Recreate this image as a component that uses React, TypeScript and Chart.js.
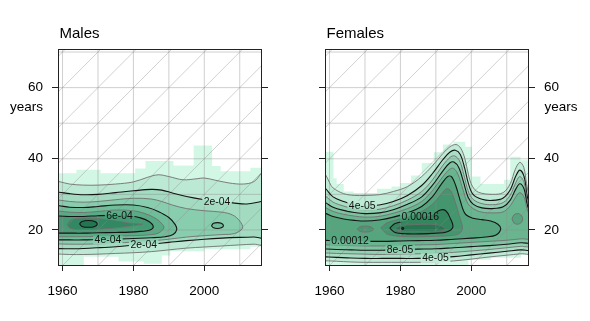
import React, { useEffect, useRef } from 'react';
import { Chart, registerables } from 'chart.js';

Chart.register(...registerables);

const FONT = '"Liberation Sans", Arial, Helvetica, sans-serif';

type P = [number, number];

// ---------- axes ----------
const yearMin = 1959;
const yearMax = 2016;
const ageMin = 10.15;
const ageMax = 70.85;
const xTicks = [1960, 1980, 2000];
const yTicks = [20, 40, 60];
const gridYears = [1960, 1970, 1980, 1990, 2000, 2010];
const gridAges = [20, 30, 40, 50, 60, 70];
const cohorts = [1880, 1890, 1900, 1910, 1920, 1930, 1940, 1950, 1960, 1970, 1980, 1990, 2000, 2010];

// ---------- Males : contour lines (year, age) ----------
const m1Upper: P[] = [[1957.5, 33.8], [1959, 33.6], [1962, 32.9], [1966, 32.6], [1970, 32.6], [1975, 32.9], [1980, 33.5], [1984, 34.8], [1987, 35.5], [1990, 35.0], [1994, 34.1], [1998, 34.4], [2000, 34.6], [2003, 34.0], [2007, 33.2], [2011, 32.9], [2014, 33.6], [2016, 35.8], [2017.5, 37.5]];
const m1Lower: P[] = [[1957.5, 13.3], [1962, 13.1], [1966, 13.1], [1970, 13.2], [1975, 13.4], [1980, 13.6], [1985, 13.9], [1990, 14.4], [1995, 14.9], [2000, 15.2], [2005, 15.5], [2010, 15.8], [2014, 16.0], [2017.5, 16.0]];
const m2Upper: P[] = [[1957.5, 30.7], [1959, 30.6], [1962, 30.2], [1966, 29.9], [1970, 30.0], [1975, 30.5], [1980, 31.0], [1985, 31.4], [1988, 31.2], [1991, 30.4], [1995, 29.4], [2000, 28.5], [2004, 28.0], [2008, 27.6], [2012, 27.3], [2016, 28.0], [2017.5, 28.3]];
const m2Lower: P[] = [[1957.5, 14.8], [1962, 14.7], [1966, 14.8], [1970, 15.0], [1975, 15.3], [1980, 15.7], [1985, 16.0], [1990, 16.5], [1995, 17.0], [2000, 17.4], [2005, 17.7], [2010, 17.9], [2014, 18.0], [2017.5, 18.0]];
const m3Upper: P[] = [[1957.5, 28.5], [1959, 28.4], [1962, 28.0], [1966, 27.8], [1970, 28.0], [1975, 28.5], [1980, 28.9], [1985, 28.7], [1988, 28.0], [1991, 27.0], [1995, 26.0], [2000, 25.4], [2005, 25.0], [2008, 24.2], [2010, 22.5], [2010.8, 20.5]];
const m3Lower: P[] = [[1957.5, 16.1], [1962, 16.0], [1966, 16.0], [1970, 16.1], [1975, 16.3], [1980, 16.6], [1985, 16.9], [1990, 17.4], [1995, 18.0], [2000, 18.4], [2005, 18.7], [2008.5, 19.0], [2010.8, 20.5]];
const m4Upper: P[] = [[1957.5, 26.9], [1959, 26.8], [1962, 26.4], [1966, 26.3], [1970, 26.6], [1975, 27.0], [1980, 27.0], [1984, 26.3], [1987, 25.2], [1990, 23.5], [1991.8, 21.5], [1992.2, 20.0]];
const m4Lower: P[] = [[1957.5, 17.2], [1962, 17.2], [1966, 17.2], [1970, 17.3], [1975, 17.4], [1980, 17.6], [1985, 17.8], [1989, 18.1], [1991.2, 18.7], [1992.2, 20.0]];
const m4bUpper: P[] = [[2002.0, 21.2], [2002.6, 21.85], [2003.7, 22.05], [2004.8, 21.85], [2005.4, 21.2]];
const m4bLower: P[] = [[2002.0, 21.2], [2002.6, 20.6], [2003.7, 20.4], [2004.8, 20.6], [2005.4, 21.2]];
const m5Upper: P[] = [[1957.5, 25.4], [1959, 25.3], [1962, 25.0], [1966, 24.9], [1970, 25.2], [1975, 25.6], [1980, 25.4], [1983, 24.7], [1986, 23.4], [1988, 21.8], [1988.6, 20.6]];
const m5Lower: P[] = [[1957.5, 18.1], [1962, 18.1], [1966, 18.1], [1970, 18.2], [1975, 18.3], [1980, 18.4], [1984, 18.6], [1987, 19.1], [1988.6, 20.6]];
const m6Upper: P[] = [[1957.5, 23.9], [1959, 23.9], [1962, 23.8], [1966, 23.8], [1970, 24.0], [1975, 24.1], [1979, 23.9], [1982, 23.4], [1984.5, 22.3], [1985.6, 20.9]];
const m6Lower: P[] = [[1957.5, 19.1], [1962, 19.1], [1966, 19.1], [1970, 19.2], [1975, 19.3], [1979, 19.4], [1982, 19.6], [1984.5, 19.9], [1985.6, 20.9]];
const m7Upper: P[] = [[1961.3, 21.4], [1962.3, 22.7], [1965, 23.3], [1970, 23.2], [1975, 22.6], [1979, 21.9], [1982.5, 21.6]];
const m7Lower: P[] = [[1961.3, 21.4], [1962.3, 20.4], [1965, 20.1], [1970, 20.2], [1975, 20.6], [1979, 21.1], [1982.5, 21.6]];
const m8Upper: P[] = [[1964.8, 21.7], [1965.5, 22.4], [1967.3, 22.65], [1969.1, 22.4], [1969.8, 21.7]];
const m8Lower: P[] = [[1964.8, 21.7], [1965.5, 21.0], [1967.3, 20.75], [1969.1, 21.0], [1969.8, 21.7]];
// blocky outer region (step start year, age)
const malePaleTop: P[] = [[1957, 35.9], [1963.9, 36.9], [1970.7, 35.9], [1980.5, 37.3], [1983.4, 39.4], [1991.3, 38.1], [1997, 43.7], [2002.2, 38.0], [2004.6, 36.5], [2013, 37.5]];
const malePaleBottom: P[] = [[1957, 9.0], [1966, 12.5], [1975.8, 11.1], [1982.9, 10.5], [1988, 12.8], [1990.4, 14.0], [2000, 14.6], [2013, 15.3]];
const maleFills = ['#d3f7e5', '#bce9d3', '#a2dbc0', '#88cdad', '#6fbd99', '#58ab85', '#439a73', '#328862', '#227652'];
const maleLabels = [
  { text: '6e-04', year: 1976.1, age: 24.0 },
  { text: '4e-04', year: 1972.8, age: 17.4 },
  { text: '2e-04', year: 1982.9, age: 15.8 },
  { text: '2e-04', year: 2003.6, age: 28.0 },
];

// ---------- Females : contour lines (year, age) ----------
const f1Upper: P[] = [[1957.5, 37], [1959, 35.3], [1960, 33.3], [1961, 31.8], [1964, 30.2], [1967, 29.7], [1970, 29.7], [1974, 29.9], [1978, 30.8], [1982, 32.2], [1986, 35.0], [1989, 38.0], [1992, 41.5], [1994, 43.4], [1995.7, 44.0], [1997, 43.0], [1998.2, 40.0], [1999.2, 35.5], [2000.3, 32.3], [2002, 30.6], [2006, 30.0], [2009, 30.5], [2011, 33.0], [2012.4, 37.0], [2013.7, 39.0], [2014.8, 37.6], [2015.6, 33.0], [2016.3, 29.5], [2017.5, 26]];
const f1Lower: P[] = [[1957.5, 11.4], [1962, 11.2], [1966, 11.0], [1970, 10.9], [1975, 10.9], [1980, 10.9], [1985, 10.9], [1990, 11.0], [1995, 11.3], [2000, 11.8], [2005, 12.4], [2010, 12.9], [2014, 13.3], [2017.5, 13.6]];
const f2Upper: P[] = [[1957.5, 33], [1959, 31.5], [1961, 29.3], [1964, 28.0], [1967, 27.1], [1970, 26.8], [1974, 27.0], [1978, 28.0], [1982, 29.7], [1986, 32.5], [1989, 35.8], [1992, 39.8], [1994, 41.9], [1995.5, 42.4], [1996.9, 41.2], [1998.1, 37.5], [1999.2, 33.0], [2000.5, 30.0], [2003, 28.6], [2006, 28.3], [2009, 29.0], [2011, 31.3], [2012.5, 35.0], [2013.7, 36.8], [2014.9, 35.0], [2015.7, 30.0], [2016.3, 27.5], [2017.5, 25]];
const f2Lower: P[] = [[1957.5, 12.5], [1962, 12.3], [1966, 12.1], [1970, 12.0], [1975, 12.0], [1980, 12.0], [1985, 12.0], [1990, 12.2], [1995, 12.5], [2000, 13.0], [2005, 13.5], [2010, 14.0], [2014, 14.4], [2017.5, 14.6]];
const f3Upper: P[] = [[1957.5, 30.5], [1959, 29.4], [1961, 27.8], [1964, 26.7], [1967, 25.9], [1970, 25.6], [1974, 25.8], [1978, 26.8], [1982, 28.4], [1986, 30.8], [1989, 34.0], [1992, 38.2], [1994, 40.4], [1995.3, 40.8], [1996.7, 39.4], [1997.9, 35.5], [1999.1, 31.0], [2000.5, 28.6], [2003, 27.4], [2006, 27.1], [2009, 27.7], [2011, 29.8], [2012.5, 33.2], [2013.7, 35.0], [2014.9, 33.3], [2015.7, 28.5], [2016.3, 26.5], [2017.5, 24]];
const f3Lower: P[] = [[1957.5, 13.6], [1962, 13.4], [1966, 13.3], [1970, 13.2], [1975, 13.1], [1980, 13.2], [1985, 13.3], [1990, 13.4], [1995, 13.7], [2000, 14.1], [2005, 14.5], [2010, 15.0], [2014, 15.4], [2017.5, 15.6]];
const f4Upper: P[] = [[1957.5, 28.5], [1959, 27.6], [1961, 26.4], [1964, 25.5], [1967, 24.9], [1970, 24.6], [1974, 24.8], [1978, 25.7], [1982, 27.2], [1986, 29.3], [1989, 32.5], [1992, 36.6], [1993.9, 38.8], [1995.1, 39.1], [1996.5, 37.5], [1997.8, 33.5], [1999.1, 29.2], [2000.6, 27.2], [2003, 26.2], [2006, 26.0], [2009, 26.5], [2011, 28.4], [2012.5, 31.4], [2013.7, 33.0], [2014.9, 31.5], [2015.7, 27.5], [2016.3, 25.5], [2017.5, 23]];
const f4Lower: P[] = [[1957.5, 14.7], [1962, 14.5], [1966, 14.4], [1970, 14.3], [1975, 14.3], [1980, 14.5], [1985, 14.6], [1990, 14.7], [1995, 15.0], [2000, 15.3], [2005, 15.6], [2010, 16.0], [2014, 16.4], [2017.5, 16.6]];
const f5Upper: P[] = [[1957.5, 26.8], [1959, 26.2], [1961, 25.2], [1964, 24.4], [1967, 23.9], [1970, 23.6], [1974, 23.8], [1978, 24.7], [1982, 26.0], [1986, 28.0], [1989, 31.0], [1992, 35.0], [1993.8, 37.0], [1995, 37.3], [1996.3, 35.5], [1997.6, 31.5], [1999, 27.5], [2000.7, 25.9], [2003, 25.0], [2006, 24.8], [2009, 25.1], [2011, 26.8], [2012.5, 29.2], [2013.7, 30.5], [2014.9, 29.2], [2015.7, 26.0], [2016.3, 24.5], [2017.5, 22.5]];
const f5Lower: P[] = [[1957.5, 15.9], [1962, 15.7], [1966, 15.6], [1970, 15.5], [1975, 15.5], [1980, 15.6], [1985, 15.8], [1990, 15.9], [1995, 16.2], [2000, 16.5], [2005, 16.8], [2010, 17.1], [2014, 17.5], [2017.5, 17.7]];
const f6Upper: P[] = [[1957.5, 25.0], [1959, 24.6], [1961, 23.8], [1964, 23.1], [1967, 22.7], [1970, 22.5], [1974, 22.8], [1978, 23.6], [1982, 24.8], [1986, 26.6], [1989, 29.3], [1991.5, 32.8], [1993.3, 35.0], [1994.4, 35.0], [1995.6, 32.5], [1996.8, 28.5], [1998.3, 24.5], [2000.5, 23.3], [2003, 22.9], [2005.5, 22.5], [2007.5, 21.6], [2008.3, 20.3]];
const f6Lower: P[] = [[1957.5, 17.1], [1962, 17.0], [1966, 16.9], [1970, 16.8], [1975, 16.8], [1980, 16.9], [1985, 17.0], [1990, 17.1], [1995, 17.4], [2000, 17.7], [2004, 18.0], [2007, 18.6], [2008.3, 20.3]];
const f6bUpper: P[] = [[2011.5, 23.1], [2012.0, 24.2], [2013.0, 24.6], [2014.0, 24.2], [2014.5, 23.1]];
const f6bLower: P[] = [[2011.5, 23.1], [2012.0, 22.0], [2013.0, 21.6], [2014.0, 22.0], [2014.5, 23.1]];
const f7Upper: P[] = [[1974.5, 20.6], [1976, 21.9], [1978, 22.6], [1982, 23.7], [1986, 25.2], [1989, 27.2], [1991.5, 30.0], [1993, 31.6], [1994.2, 31.0], [1995.4, 28.0], [1996.6, 24.0], [1997.5, 20.5]];
const f7Lower: P[] = [[1974.5, 20.6], [1976, 19.0], [1978, 18.4], [1982, 18.1], [1986, 18.1], [1990, 18.2], [1994, 18.4], [1996.5, 18.9], [1997.5, 20.5]];
const f7bUpper: P[] = [[1967.8, 20.2], [1968.6, 20.9], [1970.1, 21.1], [1971.6, 20.9], [1972.4, 20.2]];
const f7bLower: P[] = [[1967.8, 20.2], [1968.6, 19.6], [1970.1, 19.4], [1971.6, 19.6], [1972.4, 20.2]];
const f8Upper: P[] = [[1977, 20.5], [1978.5, 21.8], [1982, 22.7], [1985.5, 23.5], [1989, 24.3], [1991.3, 25.6], [1992.8, 25.4], [1994, 23.4], [1994.8, 20.8]];
const f8Lower: P[] = [[1977, 20.5], [1978.5, 19.3], [1982, 18.9], [1986, 18.9], [1990, 19.1], [1993, 19.4], [1994.8, 20.8]];
const f9Upper: P[] = [[1978.5, 20.4], [1980, 21.2], [1984, 21.5], [1988, 21.6], [1991, 21.3], [1992.6, 20.3]];
const f9Lower: P[] = [[1978.5, 20.4], [1980, 19.7], [1984, 19.6], [1988, 19.5], [1991, 19.6], [1992.6, 20.3]];
const f10Upper: P[] = [[1980.25, 20.4], [1980.6, 20.65], [1980.95, 20.4]];
const f10Lower: P[] = [[1980.25, 20.4], [1980.6, 20.15], [1980.95, 20.4]];
const femalePaleTop: P[] = [[1957, 42.0], [1961.1, 34.5], [1962, 32.9], [1964, 30.8], [1966.8, 30.4], [1973.4, 31.6], [1977.5, 32.2], [1980, 33.2], [1983, 35.3], [1986, 38.8], [1989.4, 41.8], [1992, 44.0], [1995, 44.8], [1998.3, 43.4], [2000.2, 35.0], [2002.6, 32.9], [2009.2, 34.1], [2011, 40.6], [2013.9, 39.6]];
const femalePaleBottom: P[] = [[1957, 9.0], [1999.2, 11.6], [2005.5, 12.2], [2014, 13.0]];
const femaleFills = ['#d3f7e5', '#bfead5', '#a9dec4', '#93d1b3', '#7dc3a1', '#68b58f', '#55a57e', '#44966e', '#34865f', '#257651', '#1a6644'];
const femaleLabels = [
  { text: '4e-05', year: 1969.2, age: 26.8 },
  { text: '0.00016', year: 1985.6, age: 23.6 },
  { text: '0.00012', year: 1965.8, age: 17.0 },
  { text: '8e-05', year: 1979.9, age: 14.6 },
  { text: '4e-05', year: 1989.9, age: 12.2 },
];

const maleContours = [
  { upper: m1Upper, lower: m1Lower, rank: 1 },
  { upper: m2Upper, lower: m2Lower, rank: 2 },
  { upper: m3Upper, lower: m3Lower, rank: 3 },
  { upper: m4Upper, lower: m4Lower, rank: 4 },
  { upper: m4bUpper, lower: m4bLower, rank: 4 },
  { upper: m5Upper, lower: m5Lower, rank: 5 },
  { upper: m6Upper, lower: m6Lower, rank: 6 },
  { upper: m7Upper, lower: m7Lower, rank: 7 },
  { upper: m8Upper, lower: m8Lower, rank: 8 },
];
const femaleContours = [
  { upper: f1Upper, lower: f1Lower, rank: 1 },
  { upper: f2Upper, lower: f2Lower, rank: 2 },
  { upper: f3Upper, lower: f3Lower, rank: 3 },
  { upper: f4Upper, lower: f4Lower, rank: 4 },
  { upper: f5Upper, lower: f5Lower, rank: 5 },
  { upper: f6Upper, lower: f6Lower, rank: 6 },
  { upper: f6bUpper, lower: f6bLower, rank: 6, light: true },
  { upper: f7Upper, lower: f7Lower, rank: 7 },
  { upper: f7bUpper, lower: f7bLower, rank: 7 },
  { upper: f8Upper, lower: f8Lower, rank: 8 },
  { upper: f9Upper, lower: f9Lower, rank: 9 },
  { upper: f10Upper, lower: f10Lower, rank: 10 },
];

const malePanel = {
  title: 'Males', side: 'left', contours: maleContours, paleTop: malePaleTop, paleBottom: malePaleBottom,
  fills: maleFills, labels: maleLabels, leftWidth: 59, rightWidth: 34,
};
const femalePanel = {
  title: 'Females', side: 'right', contours: femaleContours, paleTop: femalePaleTop, paleBottom: femalePaleBottom,
  fills: femaleFills, labels: femaleLabels, leftWidth: 31, rightWidth: 62,
};

// ---------- helpers ----------
const toXY = (arr: P[]) => arr.map(([x, y]) => ({ x, y }));

function outline(upper: P[], lower: P[]): P[] {
  const pts = upper.concat(lower.slice().reverse());
  return pts.filter((p, i) => i === 0 || p[0] !== pts[i - 1][0] || p[1] !== pts[i - 1][1]);
}

function paleOutline(top: P[], bottom: P[], end: number): P[] {
  const pts: P[] = top.slice();
  pts.push([end, top[top.length - 1][1]]);
  for (let j = bottom.length - 1; j >= 0; j--) {
    const e = j === bottom.length - 1 ? end : bottom[j + 1][0];
    pts.push([e, bottom[j][1]]);
  }
  pts.push([bottom[0][0], bottom[0][1]]);
  return pts;
}

const LABEL_SIZE = 10.4;
const TICK_FONT = { family: FONT, size: 13.5 };
const GRID_COLOR = 'rgba(140,140,140,0.42)';
const DIAG_COLOR = 'rgba(140,140,140,0.5)';

function makeChart(canvas: HTMLCanvasElement, panel: any) {
  const datasets: any[] = [];
  datasets.push({
    data: toXY(paleOutline(panel.paleTop, panel.paleBottom, 2018)),
    stepped: true, fill: 'shape', backgroundColor: panel.fills[0],
    borderColor: 'rgba(0,0,0,0)', borderWidth: 1, pointRadius: 0, order: 1000,
  });
  for (const g of gridYears) {
    datasets.push({ data: toXY([[g, 0], [g, 80]]), borderColor: GRID_COLOR, borderWidth: 1, pointRadius: 0, fill: false, order: 800 });
  }
  for (const a of gridAges) {
    datasets.push({ data: toXY([[1950, a], [2030, a]]), borderColor: GRID_COLOR, borderWidth: 1, pointRadius: 0, fill: false, order: 800 });
  }
  for (const c of cohorts) {
    datasets.push({ data: toXY([[c, 0], [c + 80, 80]]), borderColor: DIAG_COLOR, borderWidth: 0.8, pointRadius: 0, fill: false, order: 790 });
  }
  for (const ct of panel.contours) {
    const dark = ct.rank % 2 === 0 && !ct.light;
    datasets.push({
      data: toXY(outline(ct.upper, ct.lower)),
      fill: 'shape', backgroundColor: panel.fills[ct.rank],
      borderColor: dark ? '#151515' : '#707070', borderWidth: dark ? 1.1 : 0.9,
      pointRadius: 0, tension: 0.35, order: 500 - ct.rank,
    });
  }

  const yAxis = (position: string, showLabels: boolean, width: number) => ({
    type: 'linear', position, min: ageMin, max: ageMax,
    afterBuildTicks: (s: any) => { s.ticks = yTicks.map((v) => ({ value: v })); },
    afterFit: (s: any) => { s.width = width; },
    grid: { display: true, drawOnChartArea: false, drawTicks: true, tickLength: 7, tickColor: '#222', tickWidth: 1 },
    border: { display: false },
    ticks: { display: showLabels, padding: 9, color: '#000', font: TICK_FONT, callback: (v: any) => String(v) },
  });

  const decor = {
    id: 'decor',
    beforeDatasetsDraw(chart: any) {
      const { ctx, scales } = chart;
      ctx.save();
      ctx.font = `${LABEL_SIZE}px ${FONT}`;
      ctx.beginPath();
      ctx.rect(0, 0, chart.width, chart.height);
      for (const l of panel.labels) {
        const x = scales.x.getPixelForValue(l.year);
        const y = scales.y.getPixelForValue(l.age);
        const w = ctx.measureText(l.text).width + 3;
        ctx.rect(x - w / 2, y - 5, w, 10);
      }
      ctx.clip('evenodd');
    },
    afterDatasetsDraw(chart: any) {
      chart.ctx.restore();
    },
    afterDraw(chart: any) {
      const { ctx, chartArea: a, scales } = chart;
      ctx.save();
      ctx.font = `${LABEL_SIZE}px ${FONT}`;
      ctx.fillStyle = '#111';
      ctx.textAlign = 'center';
      ctx.textBaseline = 'middle';
      for (const l of panel.labels) {
        ctx.fillText(l.text, scales.x.getPixelForValue(l.year), scales.y.getPixelForValue(l.age) + 0.5);
      }
      ctx.strokeStyle = '#222';
      ctx.lineWidth = 1;
      ctx.strokeRect(a.left - 0.5, a.top + 0.5, a.right - a.left + 1, a.bottom - a.top);
      ctx.fillStyle = '#000';
      ctx.textBaseline = 'alphabetic';
      ctx.textAlign = 'left';
      ctx.font = `15px ${FONT}`;
      ctx.fillText(panel.title, a.left + 0.5, 38);
      ctx.font = `13.5px ${FONT}`;
      if (panel.side === 'left') {
        ctx.textAlign = 'right';
        ctx.fillText('years', a.left - 16, 111);
      } else {
        ctx.textAlign = 'left';
        ctx.fillText('years', a.right + 16.5, 111);
      }
      ctx.restore();
    },
  };

  return new Chart(canvas, {
    type: 'line',
    data: { datasets },
    options: {
      animation: false,
      responsive: false,
      devicePixelRatio: 1,
      events: [],
      layout: { padding: { top: 49, left: 0, right: 0, bottom: 0 } },
      elements: { line: { capBezierPoints: false } },
      plugins: {
        legend: { display: false },
        title: { display: false },
        tooltip: { enabled: false },
        filler: { drawTime: 'beforeDatasetsDraw' },
      },
      scales: {
        x: {
          type: 'linear', position: 'bottom', min: yearMin, max: yearMax,
          afterBuildTicks: (s: any) => { s.ticks = xTicks.map((v) => ({ value: v })); },
          afterFit: (s: any) => { s.height = 321 - 265; },
          grid: { display: true, drawOnChartArea: false, drawTicks: true, tickLength: 6, tickColor: '#222' },
          border: { display: false },
          ticks: { padding: 12.5, color: '#000', font: TICK_FONT, maxRotation: 0, autoSkip: false, callback: (v: any) => String(v) },
        },
        y: yAxis('left', panel.side === 'left', panel.leftWidth),
        y2: yAxis('right', panel.side === 'right', panel.rightWidth),
      },
    },
    plugins: [decor],
  } as any);
}

export default function App() {
  const leftRef = useRef<HTMLCanvasElement>(null);
  const rightRef = useRef<HTMLCanvasElement>(null);
  useEffect(() => {
    const c1 = makeChart(leftRef.current as HTMLCanvasElement, malePanel);
    const c2 = makeChart(rightRef.current as HTMLCanvasElement, femalePanel);
    return () => {
      c1.destroy();
      c2.destroy();
    };
  }, []);
  return (
    <div style={{ position: 'absolute', left: 0, top: 0, width: 590, height: 321, background: '#fff' }}>
      <canvas ref={leftRef} width={295} height={321} style={{ position: 'absolute', left: 0, top: 0, width: 295, height: 321 }} />
      <canvas ref={rightRef} width={295} height={321} style={{ position: 'absolute', left: 295, top: 0, width: 295, height: 321 }} />
    </div>
  );
}
